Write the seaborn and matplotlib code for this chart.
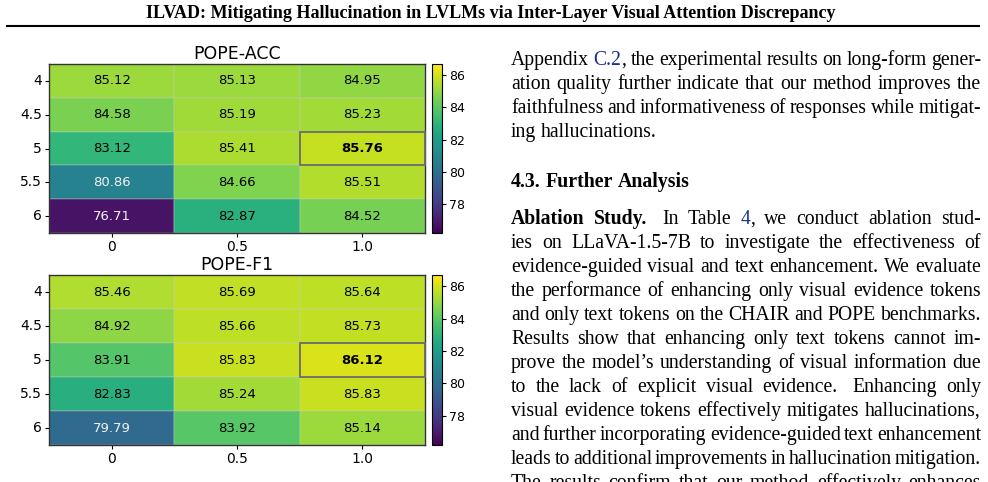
import re
import numpy as np
import pandas as pd
import matplotlib
matplotlib.use("Agg")
import matplotlib.pyplot as plt
from matplotlib.patches import Rectangle
from matplotlib.lines import Line2D
from matplotlib.ticker import MultipleLocator
import seaborn as sns

W, H = 988, 482

# heatmap data (rows: layer, cols: alpha)
alphas = ["0", "0.5", "1.0"]
layers = ["4", "4.5", "5", "5.5", "6"]
pope_acc = [[85.12, 85.13, 84.95],
            [84.58, 85.19, 85.23],
            [83.12, 85.41, 85.76],
            [80.86, 84.66, 85.51],
            [76.71, 82.87, 84.52]]
pope_f1 = [[85.46, 85.69, 85.64],
           [84.92, 85.66, 85.73],
           [83.91, 85.83, 86.12],
           [82.83, 85.24, 85.83],
           [79.79, 83.92, 85.14]]
VMIN, VMAX = 76.2, 86.7

HEADER = "ILVAD: Mitigating Hallucination in LVLMs via Inter-Layer Visual Attention Discrepancy"
# **bold**, [[link]]; last line of a paragraph is not justified
PARA1 = ["Appendix [[C.2]], the experimental results on long-form gener-",
         "ation quality further indicate that our method improves the",
         "faithfulness and informativeness of responses while mitigat-",
         "ing hallucinations."]
HEADING = "4.3. Further Analysis"
PARA2 = ["**Ablation Study.**  In Table [[4]], we conduct ablation stud-",
         "ies on LLaVA-1.5-7B to investigate the effectiveness of",
         "evidence-guided visual and text enhancement. We evaluate",
         "the performance of enhancing only visual evidence tokens",
         "and only text tokens on the CHAIR and POPE benchmarks.",
         "Results show that enhancing only text tokens cannot im-",
         "prove the model\u2019s understanding of visual information due",
         "to the lack of explicit visual evidence.  Enhancing only",
         "visual evidence tokens effectively mitigates hallucinations,",
         "and further incorporating evidence-guided text enhancement",
         "leads to additional improvements in hallucination mitigation.",
         "The results confirm that our method effectively enhances"]

SERIF = "Liberation Serif"
STYLES = {"plain": dict(color="black"),
          "bold": dict(color="black", fontweight="bold"),
          "link": dict(color="#1c2e8c")}


def parse(line):
    runs = []
    for part in re.split(r"(\*\*.+?\*\*|\[\[.+?\]\])", line):
        if not part:
            continue
        if part.startswith("**"):
            runs.append((part[2:-2], "bold"))
        elif part.startswith("[["):
            runs.append((part[2:-2], "link"))
        else:
            runs.append((part, "plain"))
    words = []
    gap = 0
    for text, style in runs:
        for chunk in re.findall(r" +|[^ ]+", text):
            if chunk[0] == " ":
                gap += 1 if len(chunk) == 1 else 1.6
            else:
                if gap or not words:
                    words.append([gap, []])
                    gap = 0
                words[-1][1].append((chunk, style))
    return words


def fit_size(renderer, text, target_px, weight="normal", size=14.0):
    t = fig.text(0, 0, text, fontfamily=SERIF, fontsize=size, fontweight=weight)
    w = t.get_window_extent(renderer).width
    t.remove()
    return size * target_px / w


def draw_line(fig, renderer, line, x0, x1, y, justify, size, extra_style=None):
    words = parse(line)
    placed = []
    total = 0.0
    for g, pieces in words:
        for chunk, style in pieces:
            kw = dict(STYLES[style])
            if extra_style:
                kw.update(extra_style)
            t = fig.text(0, 0, chunk, fontfamily=SERIF, fontsize=size,
                         va="baseline", ha="left", **kw)
            w = t.get_window_extent(renderer).width
            placed.append((g, t, w))
            total += w
            g = 0
    gsum = sum(p[0] for p in placed)
    if justify and gsum > 0:
        space = (x1 - x0 - total) / gsum
    else:
        space = 0.25 * size * 100 / 72
    x = x0
    for g, t, w in placed:
        x += g * space
        t.set_position((x / W, 1 - y / H))
        x += w


def draw_heatmap(ax, cax, values, title):
    arr = np.array(values)
    df = pd.DataFrame(arr, index=layers, columns=alphas)
    sns.heatmap(df, ax=ax, cbar_ax=cax, cmap="viridis", vmin=VMIN, vmax=VMAX,
                annot=True, fmt=".2f", annot_kws={"fontsize": 9.5},
                linewidths=0.3, linecolor=(0.8, 0.8, 0.8, 0.2))
    mid = (VMIN + VMAX) / 2
    best = int(np.argmax(arr))
    for k, (txt, v) in enumerate(zip(ax.texts, arr.flat)):
        txt.set_color("#f2f2f2" if v < mid else "black")
        if k == best:
            txt.set_fontweight("bold")
    r, c = np.unravel_index(best, arr.shape)
    ax.add_patch(Rectangle((c, r), 1, 1, fill=False, edgecolor="#6b6b6b",
                           lw=1.3, zorder=5, clip_on=False))
    for s in ax.spines.values():
        s.set_visible(True)
        s.set_color("#333333")
        s.set_linewidth(1.0)
    ax.set_xlabel("")
    ax.set_ylabel("")
    ax.tick_params(length=3, pad=2, labelsize=10, width=0.8)
    ax.set_yticklabels(layers, rotation=0)
    ax.set_xticklabels(alphas, rotation=0)
    ax.set_title(title, fontsize=12.5, pad=3.5)
    cbar = ax.collections[0].colorbar
    cbar.outline.set_linewidth(0.8)
    cbar.locator = MultipleLocator(2)
    cbar.update_ticks()
    cax.tick_params(labelsize=9, length=3, pad=2, width=0.8)


fig = plt.figure(figsize=(W / 100, H / 100), dpi=100)
renderer = fig.canvas.get_renderer()

# heatmaps
ax1 = fig.add_axes([49 / W, 1 - 233 / H, 376 / W, 169 / H])
cax1 = fig.add_axes([432 / W, 1 - 233 / H, 10 / W, 169 / H])
ax2 = fig.add_axes([49 / W, 1 - 445 / H, 376 / W, 170 / H])
cax2 = fig.add_axes([432 / W, 1 - 445 / H, 10 / W, 170 / H])
draw_heatmap(ax1, cax1, pope_acc, "POPE-ACC")
draw_heatmap(ax2, cax2, pope_f1, "POPE-F1")

# running header
hdr = fig.text(491 / W, 1 - 18 / H, HEADER, ha="center", va="baseline",
               fontfamily=SERIF, fontweight="bold",
               fontsize=fit_size(renderer, HEADER, 688, "bold", 12))
fig.add_artist(Line2D([7 / W, 979 / W], [1 - 25.5 / H] * 2, lw=1.5, color="black"))

# body text, sizes calibrated on the unjustified lines of the page
body_size = fit_size(renderer, PARA1[-1], 146)
head_size = fit_size(renderer, HEADING, 178, "bold")
X0, X1 = 511, 981
y = 65
for i, line in enumerate(PARA1):
    draw_line(fig, renderer, line, X0, X1, y, justify=i < len(PARA1) - 1, size=body_size)
    y += 24
draw_line(fig, renderer, HEADING, X0, X1, 187, justify=False, size=head_size,
          extra_style={"fontweight": "bold"})
y = 224
for i, line in enumerate(PARA2):
    draw_line(fig, renderer, line, X0, X1, y, justify=True, size=body_size)
    y += 24

fig.savefig("out.png", dpi=100)
